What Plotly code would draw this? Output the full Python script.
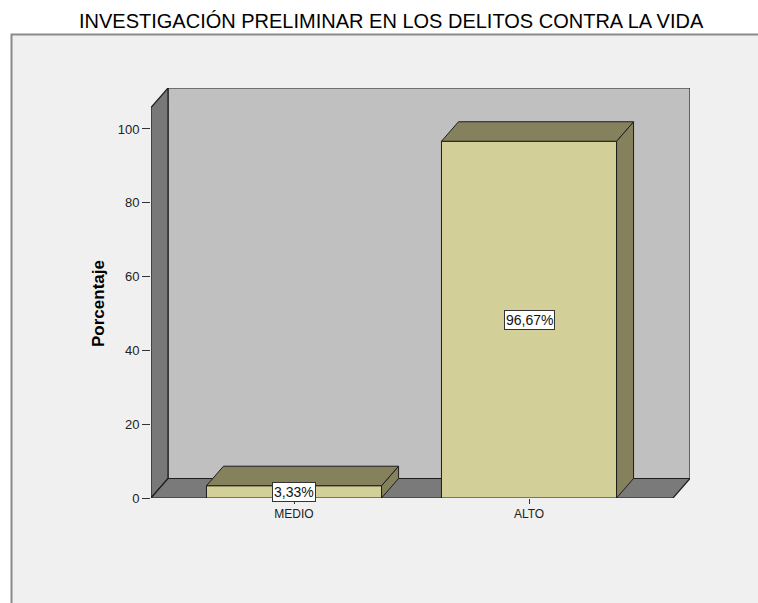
import plotly.graph_objects as go

categories = ["MEDIO", "ALTO"]
values = [3.33, 96.67]
y_ticks = [0, 20, 40, 60, 80, 100]
title_text = "INVESTIGACIÓN PRELIMINAR EN LOS DELITOS CONTRA LA VIDA"
y_title = "Porcentaje"

# layout geometry (pixels); page body margin is removed via post_script
W, H = 758, 603
L, T = 151, 88
R = W - 690
B = H - 498
PW, PH = W - L - R, H - T - B
Y_MAX = 111.1
X_MIN, X_MAX = -0.6085, 1.685
px_x = (X_MAX - X_MIN) / PW
px_y = Y_MAX / PH
DX, DY = 17 * px_x, 19.5 * px_y          # depth offset in data units
FRONT_RIGHT = 1.6128
BAR_W = 0.745
Y_FRONT_TOP = Y_MAX - DY

FRONT = "#D3CF98"
DARK_FACE = "#85815C"
EDGE = "#1e1e1e"
FONT = "Liberation Sans, Arial"


def xp(win_x):
    return (win_x - L) / PW


def yp(win_y):
    return (H - B - win_y) / PH


fig = go.Figure()
xs = list(range(len(categories)))

# side faces and top faces of bars
for x, v in zip(xs, values):
    l, r = x - BAR_W / 2, x + BAR_W / 2
    fig.add_trace(go.Scatter(
        x=[r, r + DX, r + DX, r, r], y=[0, DY, v + DY, v, 0],
        fill="toself", fillcolor=DARK_FACE, mode="lines",
        line=dict(color=EDGE, width=1), hoverinfo="skip", showlegend=False))
    fig.add_trace(go.Scatter(
        x=[l, l + DX, r + DX, r, l], y=[v, v + DY, v + DY, v, v],
        fill="toself", fillcolor=DARK_FACE, mode="lines",
        line=dict(color=EDGE, width=1), hoverinfo="skip", showlegend=False))

# front faces
fig.add_trace(go.Bar(
    x=xs, y=values, width=BAR_W,
    marker=dict(color=FRONT, line=dict(color=EDGE, width=1)),
    hoverinfo="skip", showlegend=False))

shapes = []
# outer panel
shapes.append(dict(type="rect", xref="paper", yref="paper",
                   x0=xp(11.5), x1=xp(770), y0=yp(615), y1=yp(34.5),
                   fillcolor="#F0F0F0", line=dict(color="#8a8a8a", width=2),
                   layer="below"))
# back wall
shapes.append(dict(type="path", xref="x", yref="y",
                   path=f"M{X_MIN + DX},{DY} L{FRONT_RIGHT + DX},{DY} L{FRONT_RIGHT + DX},{Y_MAX} L{X_MIN + DX},{Y_MAX} Z",
                   fillcolor="#C0C0C0", line=dict(color=EDGE, width=1.2), layer="below"))
# left wall
shapes.append(dict(type="path", xref="x", yref="y",
                   path=f"M{X_MIN},0 L{X_MIN + DX},{DY} L{X_MIN + DX},{Y_MAX} L{X_MIN},{Y_FRONT_TOP} Z",
                   fillcolor="#787878", line=dict(color=EDGE, width=1.2), layer="below"))
# floor
shapes.append(dict(type="path", xref="x", yref="y",
                   path=f"M{X_MIN},0 L{FRONT_RIGHT},0 L{FRONT_RIGHT + DX},{DY} L{X_MIN + DX},{DY} Z",
                   fillcolor="#7A7A7A", line=dict(color=EDGE, width=1.2), layer="below"))

annotations = []
for x, v in zip(xs, values):
    annotations.append(dict(
        x=x, y=v / 2, xref="x", yref="y", xanchor="center", yanchor="middle",
        text=f"{v:.2f}".replace(".", ",") + "%", showarrow=False,
        font=dict(family=FONT, size=14, color="#111"),
        bgcolor="white", bordercolor="#333", borderwidth=1, borderpad=1))

annotations.append(dict(
    x=xp(391), y=yp(20.5), xref="paper", yref="paper",
    xanchor="center", yanchor="middle",
    text=title_text, showarrow=False,
    font=dict(family=FONT, size=20, color="#000")))
annotations.append(dict(
    x=xp(98.5), y=yp(303.5), xref="paper", yref="paper",
    xanchor="center", yanchor="middle",
    text=f"<b>{y_title}</b>", showarrow=False, textangle=-90,
    font=dict(family=FONT, size=17, color="#000")))

fig.update_layout(
    width=W, height=H,
    margin=dict(l=L, r=R, t=T, b=B, pad=0),
    paper_bgcolor="white", plot_bgcolor="rgba(0,0,0,0)",
    shapes=shapes, annotations=annotations,
    xaxis=dict(range=[X_MIN, X_MAX], tickvals=xs, ticktext=categories,
               showgrid=False, zeroline=False, showline=False,
               ticks="outside", ticklen=5, tickcolor="#333",
               tickfont=dict(family=FONT, size=12, color="#222")),
    yaxis=dict(range=[0, Y_MAX], tickvals=y_ticks,
               showgrid=False, zeroline=False, showline=False,
               ticks="outside", ticklen=8, tickcolor="#333",
               tickfont=dict(family=FONT, size=13, color="#222")),
)

fig.write_html(
    "out.html",
    config={"displayModeBar": False},
    post_script="document.body.style.margin='0';document.body.style.overflow='hidden';",
)
